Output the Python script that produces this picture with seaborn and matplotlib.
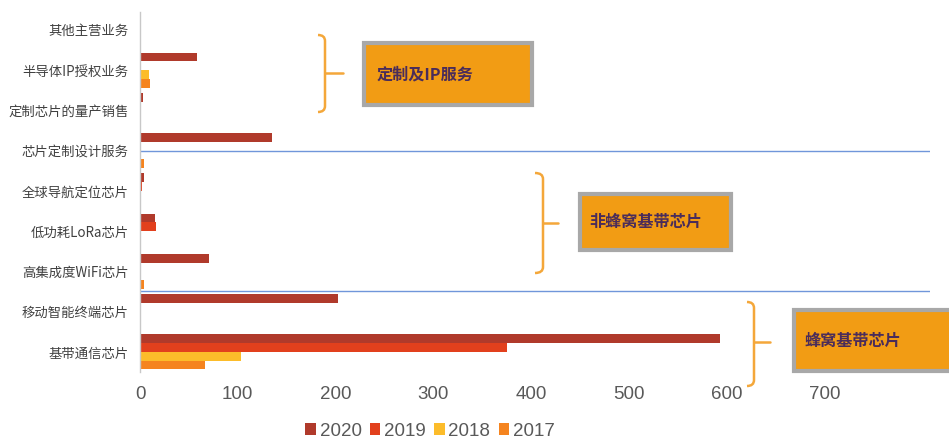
import matplotlib
matplotlib.use("Agg")
import matplotlib.pyplot as plt
import matplotlib.patches as mpatches
from matplotlib.path import Path
import seaborn as sns
import pandas as pd

categories = ["其他主营业务", "半导体IP授权业务", "定制芯片的量产销售", "芯片定制设计服务",
              "全球导航定位芯片", "低功耗LoRa芯片", "高集成度WiFi芯片", "移动智能终端芯片", "基带通信芯片"]
years = ["2020", "2019", "2018", "2017"]
v2020 = [0, 58, 3, 135, 4, 15, 71, 202, 593]
v2019 = [0, 1, 0, 0, 2.5, 16.5, 1, 1, 375]
v2018 = [0, 9, 0, 0, 1, 0, 0, 0, 103]
v2017 = [0, 10, 0, 4, 0, 0, 4, 0, 66]
xticks = [0, 100, 200, 300, 400, 500, 600, 700]
group_labels = ["定制及IP服务", "非蜂窝基带芯片", "蜂窝基带芯片"]
colors = ["#B03A2B", "#E2401D", "#FCBC2A", "#F5841F"]

rows = []
for yr, vals in zip(years, [v2020, v2019, v2018, v2017]):
    for c, v in zip(categories, vals):
        rows.append({"category": c, "year": yr, "value": v})
df = pd.DataFrame(rows)

sns.set_theme(style="white")
plt.rcParams["font.family"] = ["Noto Sans CJK SC", "DejaVu Sans"]

W, H = 949, 438
fig = plt.figure(figsize=(W / 100, H / 100), dpi=100)
ax = fig.add_axes([140 / W, 1 - 372 / H, (930 - 140) / W, (372 - 11.7) / H])

sns.barplot(data=df, y="category", x="value", hue="year", hue_order=years,
            order=categories, orient="h", palette=colors, saturation=1,
            width=0.87, ax=ax, linewidth=0)

ax.set_xlim(0, 808)
ax.set_ylim(8.5, -0.45)
ax.set_xticks(xticks)
ax.set_xticklabels([str(t) for t in xticks], fontsize=13.5, color="#595959",
                   family="Liberation Sans")
ax.set_yticks(range(len(categories)))
ax.set_yticklabels(categories, fontsize=9.6, color="#404040")
ax.tick_params(axis="both", length=0)
ax.tick_params(axis="y", pad=8)
ax.tick_params(axis="x", pad=10)
ax.set_xlabel("")
ax.set_ylabel("")
for s in ["top", "right", "bottom"]:
    ax.spines[s].set_visible(False)
ax.spines["left"].set_color("#C8C8C8")
ax.spines["left"].set_linewidth(1)

ax.axhline(3, color="#7096DA", lw=1)
ax.axhline(6.5, color="#7096DA", lw=1)

handles, labels = ax.get_legend_handles_labels()
ax.legend(handles, labels, loc="center", bbox_to_anchor=(430 / W, 1 - 431 / H),
          bbox_transform=fig.transFigure, ncol=4, frameon=False,
          handlelength=0.55, handleheight=0.55, handletextpad=0.2, columnspacing=0.45,
          prop={"family": "Liberation Sans", "size": 13.5},
          labelcolor="#595959")


def fx(px):
    return px / W


def fy(py):
    return 1 - py / H


def brace(xl, xv, xt, ytop, ymid, ybot):
    r = 6
    verts = [(xl, ytop), (xv, ytop), (xv, ytop + r), (xv, ybot - r), (xv, ybot), (xl, ybot)]
    codes = [Path.MOVETO, Path.CURVE3, Path.CURVE3, Path.LINETO, Path.CURVE3, Path.CURVE3]
    verts = [(fx(a), fy(b)) for a, b in verts]
    p = mpatches.PathPatch(Path(verts, codes), transform=fig.transFigure,
                           facecolor="none", edgecolor="#F4A73A", lw=1.8)
    fig.add_artist(p)
    fig.add_artist(plt.Line2D([fx(xv), fx(xt)], [fy(ymid), fy(ymid)],
                              transform=fig.transFigure, color="#F4A73A", lw=1.8))


def box(x0, y0, x1, y1, tx, ty, text):
    rect = mpatches.Rectangle((fx(x0), fy(y1)), fx(x1) - fx(x0), fy(y0) - fy(y1),
                              transform=fig.transFigure, facecolor="#F29C14",
                              edgecolor="#A8A8A8", lw=3)
    fig.add_artist(rect)
    fig.text(fx(tx), fy(ty), text, ha="left", va="center", fontsize=11.6,
             fontweight="bold", color="#4A2C5A")


brace(318, 325, 343, 35, 73, 112)
brace(535, 543, 558, 173, 223, 273)
brace(747, 754, 770, 302, 342, 386)

box(364, 43, 532, 105, 377, 74, group_labels[0])
box(580, 194, 731, 250, 589, 222, group_labels[1])
box(794, 310, 955, 371, 805, 341, group_labels[2])

fig.savefig("out.png", dpi=100)
